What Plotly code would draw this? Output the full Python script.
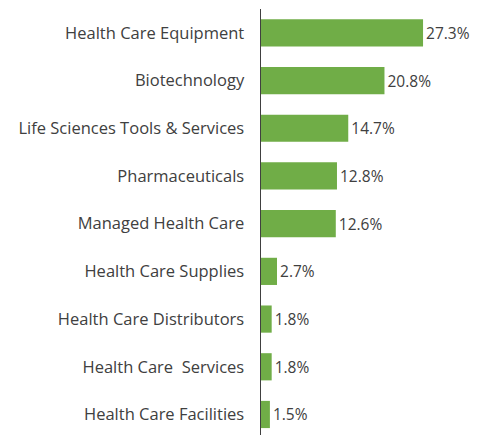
import plotly.graph_objects as go

categories = [
    "Health Care Equipment",
    "Biotechnology",
    "Life Sciences Tools & Services",
    "Pharmaceuticals",
    "Managed Health Care",
    "Health Care Supplies",
    "Health Care Distributors",
    "Health Care  Services",
    "Health Care Facilities",
]
values = [27.3, 20.8, 14.7, 12.8, 12.6, 2.7, 1.8, 1.8, 1.5]
value_labels = [f"{v:.1f}%" for v in values]
positions = list(range(len(categories)))
boundaries = [p - 0.5 for p in range(len(categories) + 1)]

y_range = [len(categories) - 0.57, -0.5]
AXIS_COLOR = "#404040"

fig = go.Figure()
fig.add_trace(
    go.Bar(
        x=values,
        y=positions,
        orientation="h",
        marker=dict(color="#70ad47", line=dict(width=0)),
        text=value_labels,
        textposition="outside",
        textfont=dict(family="Open Sans, sans-serif", size=15.5, color="#404040"),
        cliponaxis=False,
        hoverinfo="skip",
    )
)

# boundary ticks drawn as a line trace (gaps via None) on the same y scale
tick_x = []
tick_y = []
for b in boundaries:
    if min(y_range) <= b <= max(y_range):
        tick_x += [-1.6, 0, None]
        tick_y += [b, b, None]
fig.add_trace(
    go.Scatter(
        x=tick_x,
        y=tick_y,
        mode="lines",
        line=dict(color=AXIS_COLOR, width=2),
        cliponaxis=False,
        hoverinfo="skip",
        showlegend=False,
        connectgaps=False,
    )
)

fig.update_layout(
    width=483,
    height=435,
    margin=dict(l=261, r=0, t=9, b=0, autoexpand=False),
    paper_bgcolor="white",
    plot_bgcolor="white",
    bargap=0.43,
    showlegend=False,
    font=dict(family="Open Sans, sans-serif", color="#404040"),
    xaxis=dict(visible=False, range=[0, 37.4]),
    yaxis=dict(
        range=y_range,
        automargin=False,
        showline=True,
        linecolor=AXIS_COLOR,
        linewidth=1.5,
        tickmode="array",
        tickvals=positions,
        ticktext=categories,
        ticks="",
        ticklabelstandoff=12,
        tickfont=dict(family="Open Sans, sans-serif", size=16.5, color="#404040"),
        showgrid=False,
        zeroline=False,
    ),
)

fig.write_html(
    "out.html",
    config={"displayModeBar": False, "staticPlot": True},
    post_script="document.body.style.margin='0';",
)
